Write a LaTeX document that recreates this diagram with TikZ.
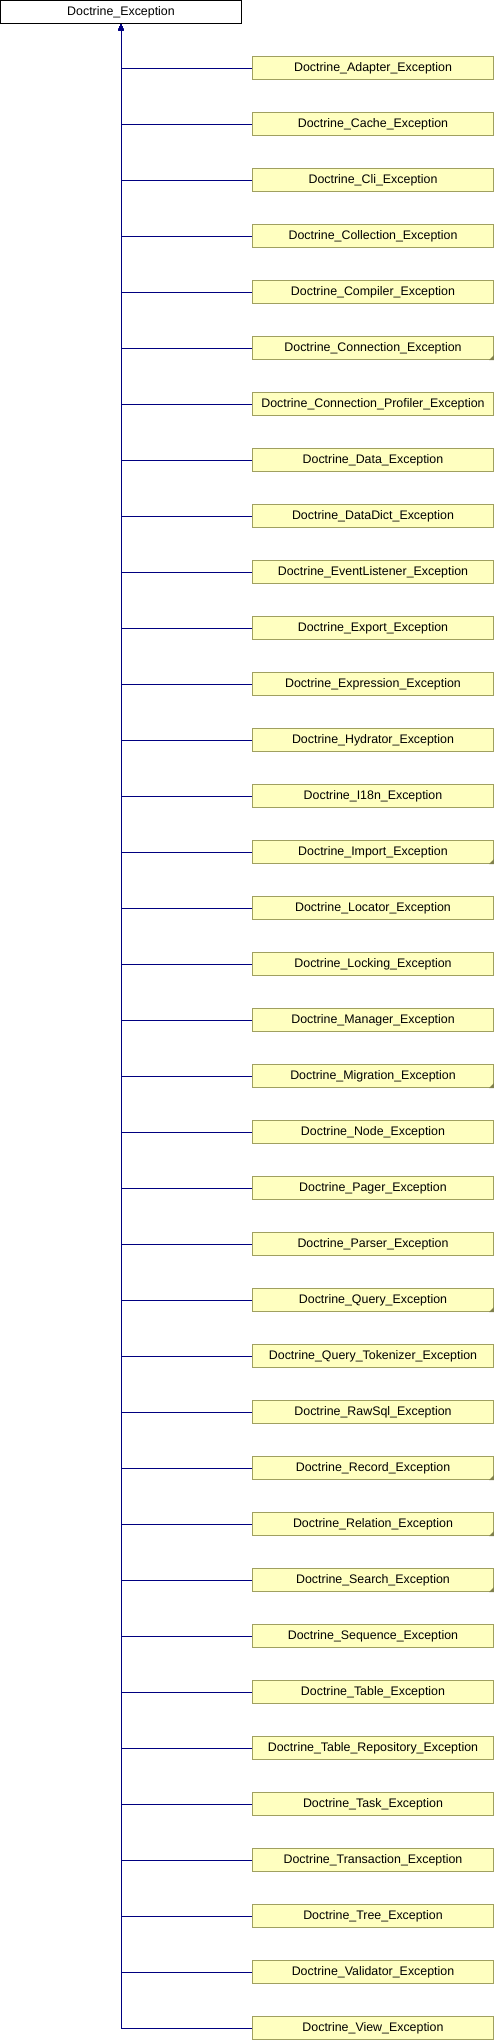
\documentclass[tikz,border=0pt]{standalone}
\usepackage{fontspec}
\setmainfont{Liberation Sans}
\usetikzlibrary{arrows.meta}
\definecolor{boxfill}{RGB}{255,255,192}
\definecolor{boxline}{RGB}{160,160,96}
\definecolor{edgeblue}{RGB}{0,0,128}
\tikzset{
    cls/.style={draw=boxline, fill=boxfill, line width=1pt, minimum width=241pt, minimum height=23pt, inner sep=0pt, font=\fontsize{12.4}{14}\selectfont}, % class box
    base cls/.style={cls, draw=black, fill=white}, % the base class
    edge/.style={draw=edgeblue, line width=1pt, -{Triangle[length=6pt,width=5pt]}}, % inheritance line
    fold/.style={fill=boxline!80!black} % folded corner
}

\begin{document}
\begin{tikzpicture}[x=1pt, y=-1pt]
    \useasboundingbox (0,0) rectangle (494,2040);

    \node[base cls] (base) at (121, 12) {Doctrine\_Exception};

    \foreach \name [count=\i] in {Adapter, Cache, Cli, Collection, Compiler, Connection, Connection\_Profiler, Data, DataDict, EventListener, Export, Expression, Hydrator, I18n, Import, Locator, Locking, Manager, Migration, Node, Pager, Parser, Query, Query\_Tokenizer, RawSql, Record, Relation, Search, Sequence, Table, Table\_Repository, Task, Transaction, Tree, Validator, View} {
        \node[cls] (c\i) at (373, 12+56*\i) {Doctrine\_\name\_Exception};
        \draw[edge] (c\i.west) -| (base.south);
    }

    \foreach \i in {6,15,19,23,26,27,28} {\fill[fold] (c\i.south east) -- ++(-5,0) -- ++(5,-5) -- cycle;}
\end{tikzpicture}
\end{document}
